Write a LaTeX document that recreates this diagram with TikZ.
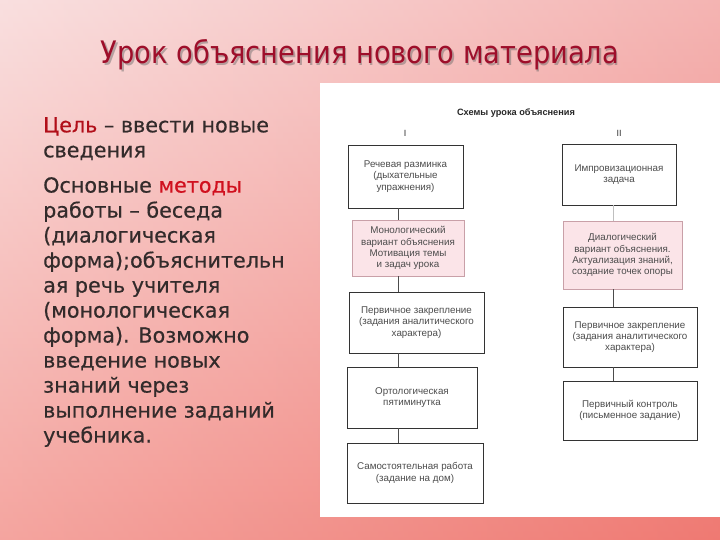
\documentclass[tikz,border=0pt]{standalone}
\usepackage{fontspec}
\usetikzlibrary{positioning,calc}
\newfontfamily\slidefont[FakeBold=0.5]{DejaVu Sans}
\newfontfamily\titlefont[FakeStretch=0.88]{DejaVu Sans}
\newfontfamily\boxfont{Liberation Sans}
\definecolor{bgtop}{HTML}{F7D2D2}
\definecolor{bgbot}{HTML}{F07E76}
\definecolor{bgred}{HTML}{EE6F6A}
\definecolor{ttlred}{HTML}{9E0E2A}
\definecolor{keyred}{HTML}{D0101E}
\definecolor{bodygrey}{HTML}{332B2B}
\definecolor{pinkfill}{HTML}{FBE4E8}
\definecolor{pinkdraw}{HTML}{C9A0A8}

\begin{document}
\begin{tikzpicture}[
  x=1pt, y=-1pt,
  box/.style={draw=black!80, line width=0.9pt, fill=white,
              font=\boxfont\fontsize{9.8}{11.2}\selectfont, align=center,
              text=black!70, inner sep=2pt},
  pinkbox/.style={box, draw=pinkdraw, fill=pinkfill},
  link/.style={draw=black!70, line width=0.9pt},
  faint/.style={draw=black!25, line width=0.8pt},
  colhead/.style={font=\boxfont\fontsize{9}{10}\selectfont, text=black!80},
  body/.style={font=\slidefont\fontsize{20.7}{25}\selectfont, text=bodygrey,
               align=left, anchor=north west, inner sep=0pt},
]
\useasboundingbox (0,0) rectangle (720,540);

%% ---- Background ----
\shade[top color=bgtop, bottom color=bgbot] (0,0) rectangle (720,540);
\shade[left color=white, right color=bgred, opacity=0.3] (0,0) rectangle (720,540);

%% ---- Title ----
\node[font=\titlefont\fontsize{31}{34}\selectfont, text=black!60, opacity=0.45]
  at (361.5,56.5) {Урок объяснения нового материала};
\node[font=\titlefont\fontsize{31}{34}\selectfont, text=ttlred] (title)
  at (360,55) {Урок объяснения нового материала};

%% ---- Left column text ----
\node[body] (goal) at (43,117)
  {\textcolor{keyred!85!black}{Цель} – ввести новые\\сведения};
\node[body] (methods) at (43,177)
  {Основные \textcolor{keyred}{методы}\\работы – беседа\\(диалогическая\\форма);объяснительн\\ая речь учителя\\(монологическая\\форма). Возможно\\введение новых\\знаний через\\выполнение заданий\\учебника.};

%% ---- Scheme panel ----
\fill[white] (320,83) rectangle (720,517);
\node[font=\boxfont\bfseries\fontsize{9.2}{10}\selectfont, text=black!85] (schemes)
  at (516,113) {Схемы урока объяснения};
\node[colhead] (headI)  at (405,133) {I};
\node[colhead] (headII) at (619,133) {II};

\coordinate (spineL) at (398,0);
\coordinate (spineR) at (613,0);

%% ---- Scheme I ----
\node[box, minimum width=115pt, minimum height=63pt] (l1) at (405.5,176.5)
  {Речевая разминка\\(дыхательные\\упражнения)};
\node[pinkbox, minimum width=112pt, minimum height=56pt] (l2) at (408,248)
  {Монологический\\вариант объяснения\\Мотивация темы\\и задач урока};
\node[box, minimum width=135pt, minimum height=61pt] (l3) at (416.5,322.5)
  {Первичное закрепление\\(задания аналитического\\характера)};
\node[box, minimum width=130pt, minimum height=61pt] (l4) at (412,397.5)
  {Ортологическая\\пятиминутка};
\node[box, minimum width=136pt, minimum height=60pt] (l5) at (415,473)
  {Самостоятельная работа\\(задание на дом)};

\draw[link] (l1.south -| spineL) -- (l2.north -| spineL);
\draw[link] (l2.south -| spineL) -- (l3.north -| spineL);
\draw[link] (l3.south -| spineL) -- (l4.north -| spineL);
\draw[link] (l4.south -| spineL) -- (l5.north -| spineL);

%% ---- Scheme II ----
\node[box, minimum width=114pt, minimum height=61pt] (r1) at (619,174.5)
  {Импровизационная\\задача};
\node[pinkbox, minimum width=119pt, minimum height=68pt] (r2) at (622.5,255)
  {Диалогический\\вариант объяснения.\\Актуализация знаний,\\создание точек опоры};
\node[box, minimum width=134pt, minimum height=60pt] (r3) at (630,337)
  {Первичное закрепление\\(задания аналитического\\характера)};
\node[box, minimum width=134pt, minimum height=59pt] (r4) at (630,410.5)
  {Первичный контроль\\(письменное задание)};

\draw[faint] (r1.south -| spineR) -- (r2.north -| spineR);
\draw[link]  (r2.south -| spineR) -- (r3.north -| spineR);
\draw[link]  (r3.south -| spineR) -- (r4.north -| spineR);

\end{tikzpicture}
\end{document}
